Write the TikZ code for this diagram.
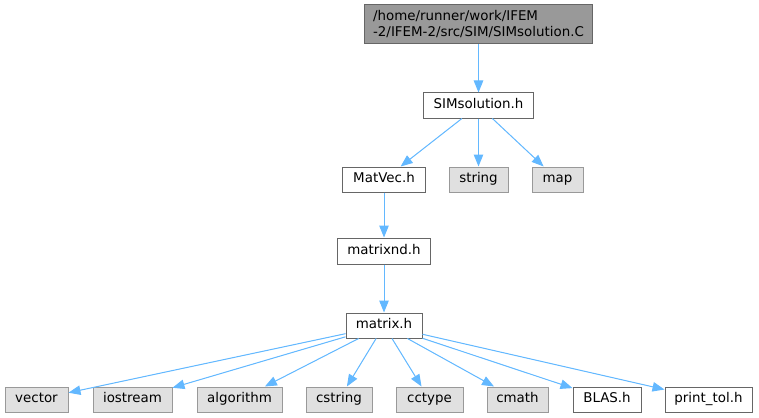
\documentclass[tikz,border=0pt]{standalone}
\usepackage{fontspec}
\setmainfont{DejaVu Sans}
\usetikzlibrary{arrows.meta}
\definecolor{edgeblue}{HTML}{63B8FF}
\definecolor{graybox}{HTML}{E0E0E0}
\definecolor{grayborder}{HTML}{999999}
\definecolor{darkborder}{HTML}{666666}
\definecolor{topfill}{HTML}{999999}
\tikzset{
  basebox/.style={line width=1pt, inner sep=0pt, anchor=center, text height=9.8pt, text depth=3pt, font=\fontsize{13.4}{15}\selectfont},
  filebox/.style={basebox, draw=darkborder, fill=white},
  sysbox/.style={basebox, draw=grayborder, fill=graybox},
  topbox/.style={draw=darkborder, fill=topfill, line width=1pt, inner sep=0pt, anchor=center, font=\fontsize{13.4}{16}\selectfont, align=left},
  dep/.style={draw=edgeblue, line width=1pt, -{Triangle[length=12pt,width=9.5pt]}, fill=edgeblue}
}
\begin{document}
\begin{tikzpicture}[x=1pt,y=-1pt]
\useasboundingbox (0,0) rectangle (759,417);
\node[topbox, minimum width=228pt, minimum height=39pt] (top) at (478.5,24.5) {/home/runner/work/IFEM\\-2/IFEM-2/src/SIM/SIMsolution.C};
\node[filebox, minimum width=110pt, minimum height=25pt] (sim) at (478.5,105.5) {SIMsolution.h};
\node[filebox, minimum width=83pt, minimum height=25pt] (matvec) at (384,179.5) {MatVec.h};
\node[sysbox, minimum width=59pt, minimum height=25pt] (string) at (478.5,179.5) {string};
\node[sysbox, minimum width=51pt, minimum height=25pt] (map) at (557.5,179.5) {map};
\node[filebox, minimum width=93pt, minimum height=26pt] (matrixnd) at (384,251) {matrixnd.h};
\node[filebox, minimum width=76pt, minimum height=25pt] (matrix) at (384,325.5) {matrix.h};
\node[sysbox, minimum width=63pt, minimum height=25pt] (vector) at (36.5,399.5) {vector};
\node[sysbox, minimum width=79pt, minimum height=25pt] (iostream) at (132.5,399.5) {iostream};
\node[sysbox, minimum width=85pt, minimum height=25pt] (algorithm) at (239.5,399.5) {algorithm};
\node[sysbox, minimum width=66pt, minimum height=25pt] (cstring) at (339,399.5) {cstring};
\node[sysbox, minimum width=67pt, minimum height=25pt] (cctype) at (429.5,399.5) {cctype};
\node[sysbox, minimum width=61pt, minimum height=25pt] (cmath) at (517.5,399.5) {cmath};
\node[filebox, minimum width=68pt, minimum height=25pt] (blas) at (607,399.5) {BLAS.h};
\node[filebox, minimum width=87pt, minimum height=25pt] (printtol) at (708.5,399.5) {print\_tol.h};
\draw[dep] (top) -- (sim);
\draw[dep] (sim) -- (matvec);
\draw[dep] (sim) -- (string);
\draw[dep] (sim) -- (map);
\draw[dep] (matvec) -- (matrixnd);
\draw[dep] (matrixnd) -- (matrix);
\draw[dep] (matrix) -- (vector);
\draw[dep] (matrix) -- (iostream);
\draw[dep] (matrix) -- (algorithm);
\draw[dep] (matrix) -- (cstring);
\draw[dep] (matrix) -- (cctype);
\draw[dep] (matrix) -- (cmath);
\draw[dep] (matrix) -- (blas);
\draw[dep] (matrix) -- (printtol);
\end{tikzpicture}
\end{document}
